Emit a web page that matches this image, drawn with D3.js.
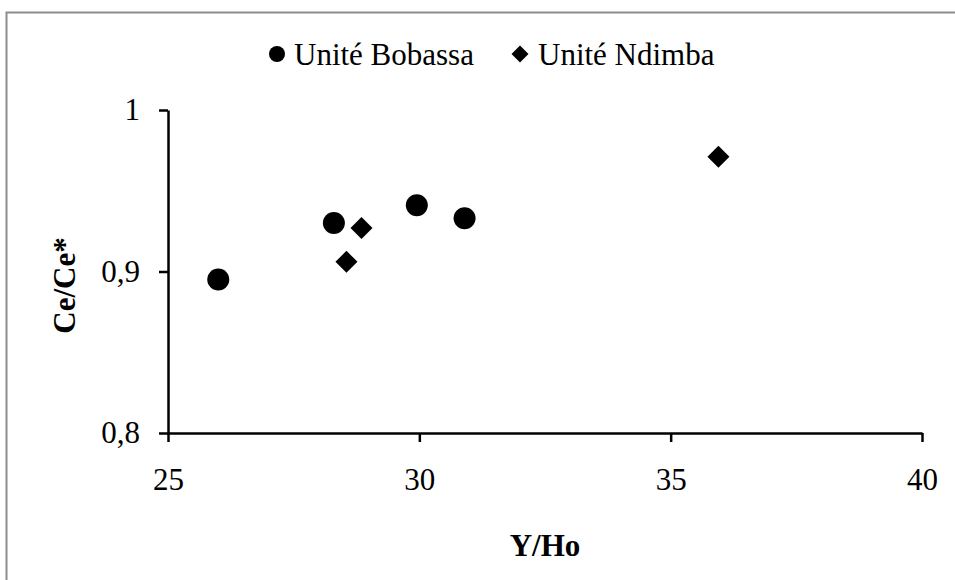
<!DOCTYPE html>
<html>
<head>
<meta charset="utf-8">
<script src="https://cdn.jsdelivr.net/npm/d3@7"></script>
<style>
  html, body { margin: 0; padding: 0; background: #fff; }
  svg { display: block; }
  text { font-family: "Liberation Serif", "Times New Roman", serif; fill: #000; }
</style>
</head>
<body>
<svg id="chart" width="955" height="580"></svg>
<script>
// Series values
const seriesNames = ["Unité Bobassa", "Unité Ndimba"];
const bobassaX = [26.0, 28.3, 29.95, 30.9];
const bobassaY = [0.895, 0.930, 0.941, 0.933];
const ndimbaX = [28.85, 28.55, 35.95];
const ndimbaY = [0.927, 0.906, 0.971];

// Axes ticks and titles
const xTicks = [25, 30, 35, 40];
const xTickLabels = ["25", "30", "35", "40"];
const yTicks = [0.8, 0.9, 1];
const yTickLabels = ["0,8", "0,9", "1"];
const xTitle = "Y/Ho";
const yTitle = "Ce/Ce*";

const svg = d3.select("#chart");
const FONT = 31;

// Chart frame
svg.append("path")
  .attr("d", "M6.5,600 L6.5,12.5 L960,12.5")
  .attr("fill", "none")
  .attr("stroke", "#8c8c8c")
  .attr("stroke-width", 2);

const x = d3.scaleLinear().domain([25, 40]).range([168, 922]);
const y = d3.scaleLinear().domain([0.8, 1]).range([433, 110]);

// X axis
const xAxis = svg.append("g")
  .attr("transform", `translate(0,${y(0.8)})`)
  .call(d3.axisBottom(x)
    .tickValues(xTicks)
    .tickFormat((d, i) => xTickLabels[i])
    .tickSize(9)
    .tickSizeOuter(0)
    .tickPadding(26));

// Y axis
const yAxis = svg.append("g")
  .attr("transform", `translate(${x(25)},0)`)
  .call(d3.axisLeft(y)
    .tickValues(yTicks)
    .tickFormat((d, i) => yTickLabels[i])
    .tickSize(9)
    .tickSizeOuter(0)
    .tickPadding(19));

[xAxis, yAxis].forEach(g => {
  g.select(".domain").attr("stroke", "#000").attr("stroke-width", 2.5);
  g.selectAll(".tick line").attr("stroke", "#000").attr("stroke-width", 2.5);
  g.selectAll(".tick text")
    .attr("font-family", "Liberation Serif")
    .attr("font-size", FONT)
    .attr("fill", "#000");
});

// Axis titles
svg.append("text")
  .attr("x", (x(25) + x(40)) / 2)
  .attr("y", 556)
  .attr("text-anchor", "middle")
  .attr("font-size", FONT)
  .attr("font-weight", "bold")
  .text(xTitle);

svg.append("text")
  .attr("transform", `translate(75,${(y(0.8) + y(1)) / 2 + 14}) rotate(-90)`)
  .attr("text-anchor", "middle")
  .attr("font-size", FONT)
  .attr("font-weight", "bold")
  .text(yTitle);

// Markers
const circleSym = d3.symbol().type(d3.symbolCircle).size(Math.PI * 11 * 11);
const diamondPath = r => `M0,${-r}L${r},0L0,${r}L${-r},0Z`;

svg.append("g").selectAll("path")
  .data(d3.zip(bobassaX, bobassaY))
  .join("path")
  .attr("transform", d => `translate(${x(d[0])},${y(d[1])})`)
  .attr("d", circleSym())
  .attr("fill", "#000");

svg.append("g").selectAll("path")
  .data(d3.zip(ndimbaX, ndimbaY))
  .join("path")
  .attr("transform", d => `translate(${x(d[0])},${y(d[1])})`)
  .attr("d", diamondPath(11))
  .attr("fill", "#000");

// Legend
const legend = svg.append("g");
legend.append("circle").attr("cx", 277).attr("cy", 54).attr("r", 8).attr("fill", "#000");
legend.append("text").attr("x", 294).attr("y", 65).attr("font-size", FONT).text(seriesNames[0]);
legend.append("path").attr("transform", "translate(520,54)").attr("d", diamondPath(8.5)).attr("fill", "#000");
legend.append("text").attr("x", 538).attr("y", 65).attr("font-size", FONT).text(seriesNames[1]);
</script>
</body>
</html>
